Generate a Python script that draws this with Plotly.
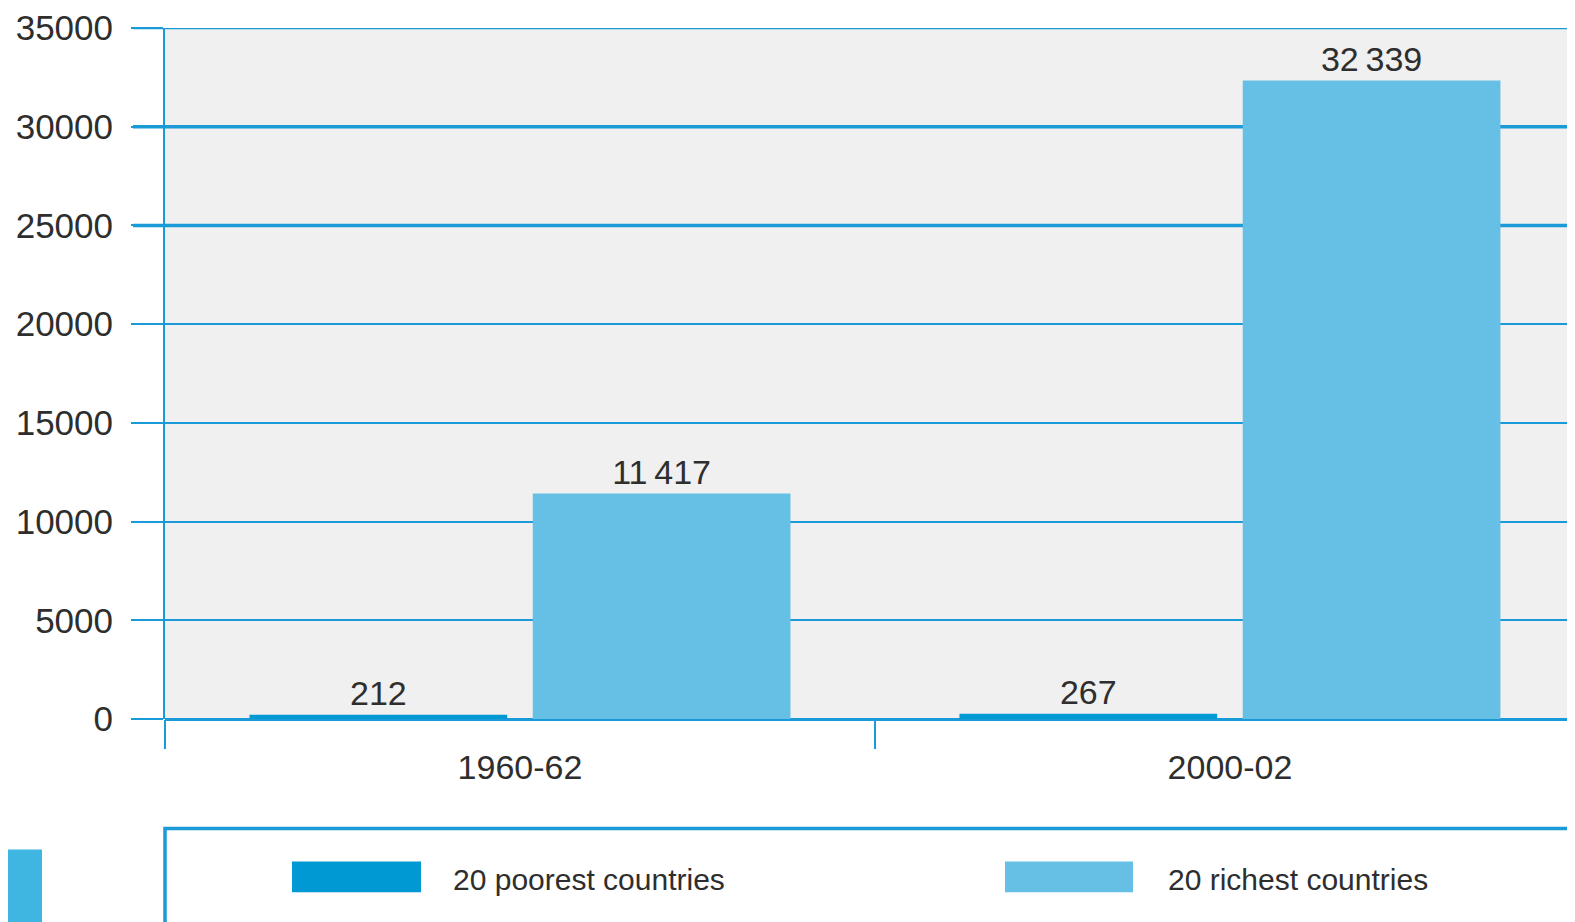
import plotly.graph_objects as go

# ---- data ----
periods = ["1960-62", "2000-02"]
series_names = ["20 poorest countries", "20 richest countries"]
poorest = [212, 267]
richest = [11417, 32339]
poorest_labels = ["212", "267"]
richest_labels = ["11\u2009417", "32\u2009339"]
y_ticks = [0, 5000, 10000, 15000, 20000, 25000, 30000, 35000]

# ---- style ----
OFF = 8  # default page body margin
W, H = 1575 - OFF, 922 - OFF
L, R, T, B = 165, 1575, 25, 719  # plot area in page pixels
DARK = "#0099d3"
LIGHT = "#66c0e5"
GRID = "#1a9ad6"
TXT = "#2e2e2e"
FONT = "Liberation Sans, Arial, sans-serif"

def px(x):
    return (x - L) / (R - L)

def py(y):
    return (B - y) / (B - T)

fig = go.Figure()
fig.add_trace(go.Bar(
    x=periods, y=poorest, name=series_names[0], marker=dict(color=DARK, line=dict(width=0)),
    width=0.363, offset=-0.381, text=poorest_labels, textposition="outside",
    textfont=dict(family=FONT, size=34, color=TXT), cliponaxis=False,
))
fig.add_trace(go.Bar(
    x=periods, y=richest, name=series_names[1], marker=dict(color=LIGHT, line=dict(width=0)),
    width=0.363, offset=0.018, text=richest_labels, textposition="outside",
    textfont=dict(family=FONT, size=34, color=TXT), cliponaxis=False,
))

shapes = []
# top gridline and thicker gridlines at 25000 and 30000
y_top = y_ticks[-1]
shapes.append(dict(type="line", xref="paper", yref="y", x0=px(133), x1=1.0, y0=y_top, y1=y_top,
                   line=dict(color=GRID, width=2.5), layer="above"))
for v in (25000, 30000):
    shapes.append(dict(type="line", xref="paper", yref="y", x0=px(133), x1=1.0, y0=v, y1=v,
                       line=dict(color=GRID, width=3.5), layer="below"))
# legend box
shapes.append(dict(type="rect", xref="paper", yref="paper", x0=px(165), x1=px(1600),
                   y0=py(960), y1=py(829), line=dict(color=GRID, width=3.5), fillcolor="white"))
# legend swatches
shapes.append(dict(type="rect", xref="paper", yref="paper", x0=px(292), x1=px(421),
                   y0=py(893), y1=py(862), line=dict(width=0), fillcolor=DARK))
shapes.append(dict(type="rect", xref="paper", yref="paper", x0=px(1005), x1=px(1133),
                   y0=py(893), y1=py(862), line=dict(width=0), fillcolor=LIGHT))
# side tab at bottom-left
shapes.append(dict(type="rect", xref="paper", yref="paper", x0=px(-10), x1=px(42),
                   y0=py(960), y1=py(850), line=dict(width=0), fillcolor="#3fb6e2"))

annotations = [
    dict(xref="paper", yref="paper", x=px(451), y=py(880), text=series_names[0], showarrow=False,
         xanchor="left", yanchor="middle", font=dict(family=FONT, size=30, color=TXT)),
    dict(xref="paper", yref="paper", x=px(1166), y=py(880), text=series_names[1], showarrow=False,
         xanchor="left", yanchor="middle", font=dict(family=FONT, size=30, color=TXT)),
]

fig.update_layout(
    width=W, height=H,
    margin=dict(l=L - OFF, r=0, t=T - OFF, b=H - (B - OFF), pad=0),
    paper_bgcolor="white", plot_bgcolor="#f0f0f0",
    barmode="overlay", showlegend=False,
    shapes=shapes, annotations=annotations,
    font=dict(family=FONT, color=TXT),
    xaxis=dict(
        type="category", categoryorder="array", categoryarray=periods,
        range=[-0.5, 1.486], showgrid=False, zeroline=False,
        ticks="outside", tickson="boundaries", ticklen=29, tickwidth=2, tickcolor=GRID,
        tickfont=dict(family=FONT, size=34, color=TXT), showline=False,
        ticklabelstandoff=25,
    ),
    yaxis=dict(
        range=[0, 35000], tickvals=y_ticks, ticktext=[str(v) for v in y_ticks],
        showgrid=True, gridcolor=GRID, gridwidth=2,
        zeroline=True, zerolinecolor=GRID, zerolinewidth=2.5,
        ticks="outside", ticklen=32, tickwidth=2, tickcolor=GRID,
        showline=True, linecolor=GRID, linewidth=2,
        tickfont=dict(family=FONT, size=35, color=TXT), ticklabelstandoff=11,
        ticklabeloverflow="allow",
    ),
)

fig.write_html("out.html")
